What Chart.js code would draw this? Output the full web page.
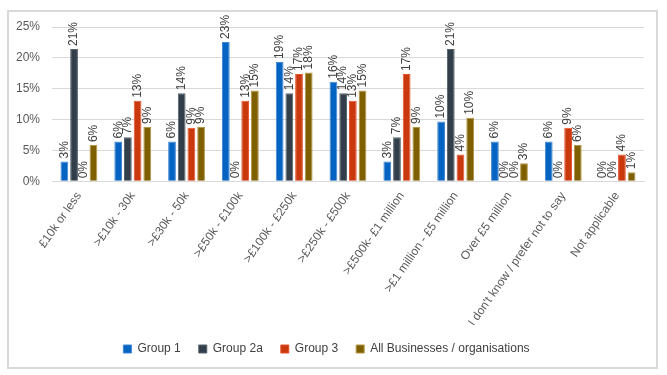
<!DOCTYPE html>
<html>
<head>
<meta charset="utf-8">
<script src="https://cdn.jsdelivr.net/npm/chart.js@4/dist/chart.umd.min.js"></script>
<style>
  body { margin: 0; background: #fff; }
  #box { position: absolute; left: 7px; top: 10px; width: 647px; height: 355px; border: 2px solid #d9d9d9; background: #fff; }
</style>
</head>
<body>
<div id="box"><canvas id="chart" width="647" height="355"></canvas></div>
<script>
const categories = ['£10k or less', '>£10k - 30k', '>£30k - 50k', '>£50k - £100k', '>£100k - £250k',
  '>£250k - £500k', '>£500k- £1 million', '>£1 million - £5 million', 'Over £5 million',
  "I don't know / prefer not to say", 'Not applicable'];
const group1 = [3.23, 6.45, 6.45, 22.58, 19.35, 16.13, 3.23, 9.68, 6.45, 6.45, 0];
const group2a = [21.43, 7.14, 14.29, 0, 14.29, 14.29, 7.14, 21.43, 0, 0, 0];
const group3 = [0, 13.04, 8.70, 13.04, 17.39, 13.04, 17.39, 4.35, 0, 8.70, 4.35];
const allBusinesses = [5.88, 8.82, 8.82, 14.71, 17.65, 14.71, 8.82, 10.29, 2.94, 5.88, 1.47];
const yTicks = [0, 5, 10, 15, 20, 25];

const FONT = "'Liberation Sans', Arial, sans-serif";

// draws the rotated percent labels above each bar
const barLabels = {
  id: 'barLabels',
  afterDatasetsDraw(chart) {
    const ctx = chart.ctx;
    ctx.save();
    ctx.font = '12px ' + FONT;
    ctx.fillStyle = '#404040';
    ctx.textAlign = 'left';
    ctx.textBaseline = 'middle';
    chart.data.datasets.forEach((ds, i) => {
      chart.getDatasetMeta(i).data.forEach((bar, j) => {
        ctx.save();
        ctx.translate(bar.x, bar.y - 3);
        ctx.rotate(-Math.PI / 2);
        ctx.fillText(Math.round(ds.data[j]) + '%', 0, 0);
        ctx.restore();
      });
    });
    ctx.restore();
  }
};

new Chart('chart', {
  type: 'bar',
  data: {
    labels: categories,
    datasets: [
      { label: 'Group 1', data: group1, backgroundColor: '#0563c1', borderColor: '#3f86d6', borderWidth: 1 },
      { label: 'Group 2a', data: group2a, backgroundColor: '#323f4b', borderColor: '#55606b', borderWidth: 1 },
      { label: 'Group 3', data: group3, backgroundColor: '#c9390d', borderColor: '#e8502a', borderWidth: 1 },
      { label: 'All Businesses / organisations', data: allBusinesses, backgroundColor: '#7f6000', borderColor: '#b39546', borderWidth: 1 }
    ]
  },
  options: {
    responsive: false,
    animation: false,
    layout: { padding: { left: 0, right: 12, top: 0, bottom: 2 } },
    datasets: { bar: { categoryPercentage: 0.72, barPercentage: 0.8 } },
    scales: {
      x: {
        afterFit: s => { s.height -= 12; },
        grid: { display: false, drawTicks: false },
        border: { color: '#d9d9d9' },
        ticks: { color: '#595959', font: { size: 12, family: FONT }, minRotation: 55, maxRotation: 55, padding: 8 }
      },
      y: {
        min: 0, max: 25,
        afterFit: s => { s.width = 43; s.paddingTop = 15; },
        afterBuildTicks: s => { s.ticks = yTicks.map(v => ({ value: v })); },
        grid: { color: '#d9d9d9', drawTicks: false },
        border: { display: false },
        ticks: { color: '#595959', font: { size: 12, family: FONT }, padding: 12, callback: v => v + '%' }
      }
    },
    plugins: {
      legend: {
        position: 'bottom',
        labels: { boxWidth: 8, boxHeight: 8, color: '#404040', font: { size: 12, family: FONT }, padding: 18 }
      },
      tooltip: { enabled: false }
    }
  },
  plugins: [barLabels]
});
</script>
</body>
</html>
